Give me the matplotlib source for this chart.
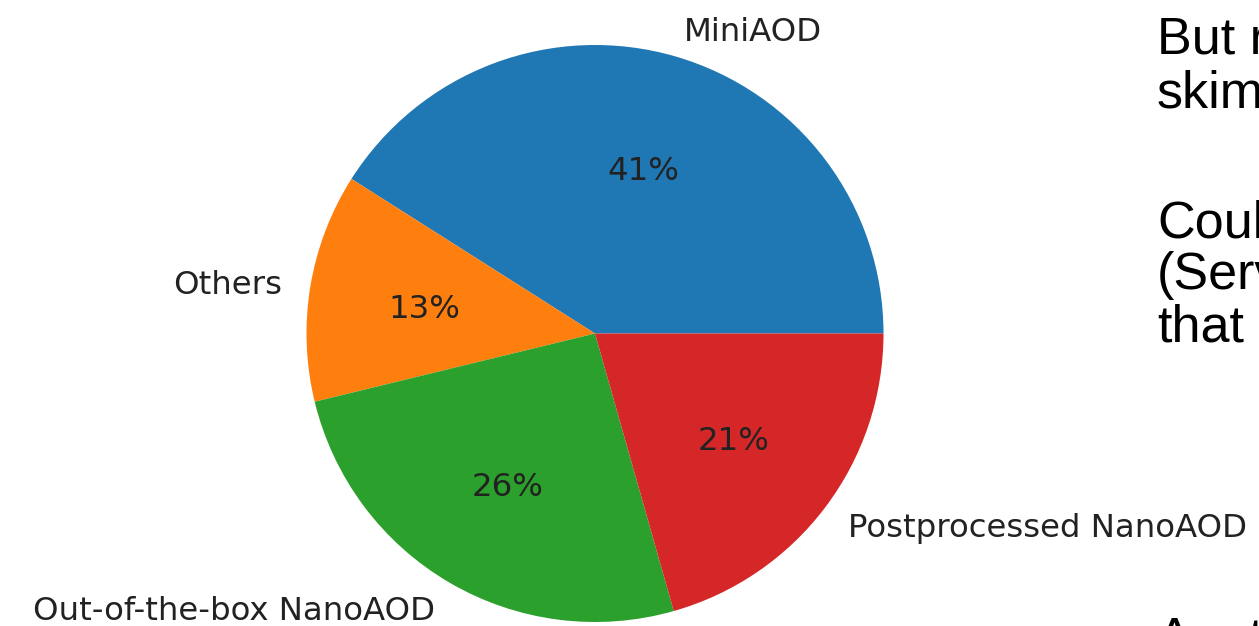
import matplotlib
matplotlib.use("Agg")
import matplotlib.pyplot as plt

# slice data (start at 3 o'clock, counter-clockwise)
labels = ["MiniAOD", "Others", "Out-of-the-box NanoAOD", "Postprocessed NanoAOD"]
shares = [41.0, 12.8, 25.6, 20.6]
colors = ["#1f77b4", "#ff7f0e", "#2ca02c", "#d62728"]

# clipped slide text on the right
side_lines = ["But r", "skim", "Coul", "(Serv", "that", "Anot"]
side_baselines = [53, 107, 237, 289, 342, 654]  # pixel rows from top

W, H = 1259, 626
fig = plt.figure(figsize=(W / 100, H / 100), dpi=100)

cx, cy, r = 595, 333.5, 288.5
ax = fig.add_axes([(cx - r) / W, (H - cy - r) / H, 2 * r / W, 2 * r / H])
wedges, texts, autotexts = ax.pie(shares, labels=labels, colors=colors,
                                  autopct='%1.0f%%', startangle=0,
                                  textprops={'fontsize': 23.3, 'color': '#222222'})
ax.set_xlim(-1, 1)
ax.set_ylim(-1, 1)
ax.set_aspect('equal')

# nudge the texts a touch lower, like the screenshot
for t in list(texts) + list(autotexts):
    x, y = t.get_position()
    t.set_position((x, y - 0.014))

for txt, base in zip(side_lines, side_baselines):
    fig.text(1157 / W, 1 - base / H, txt, fontsize=37.5, family='Liberation Sans',
             va='baseline', ha='left', color='black')

fig.savefig("out.png", dpi=100)
